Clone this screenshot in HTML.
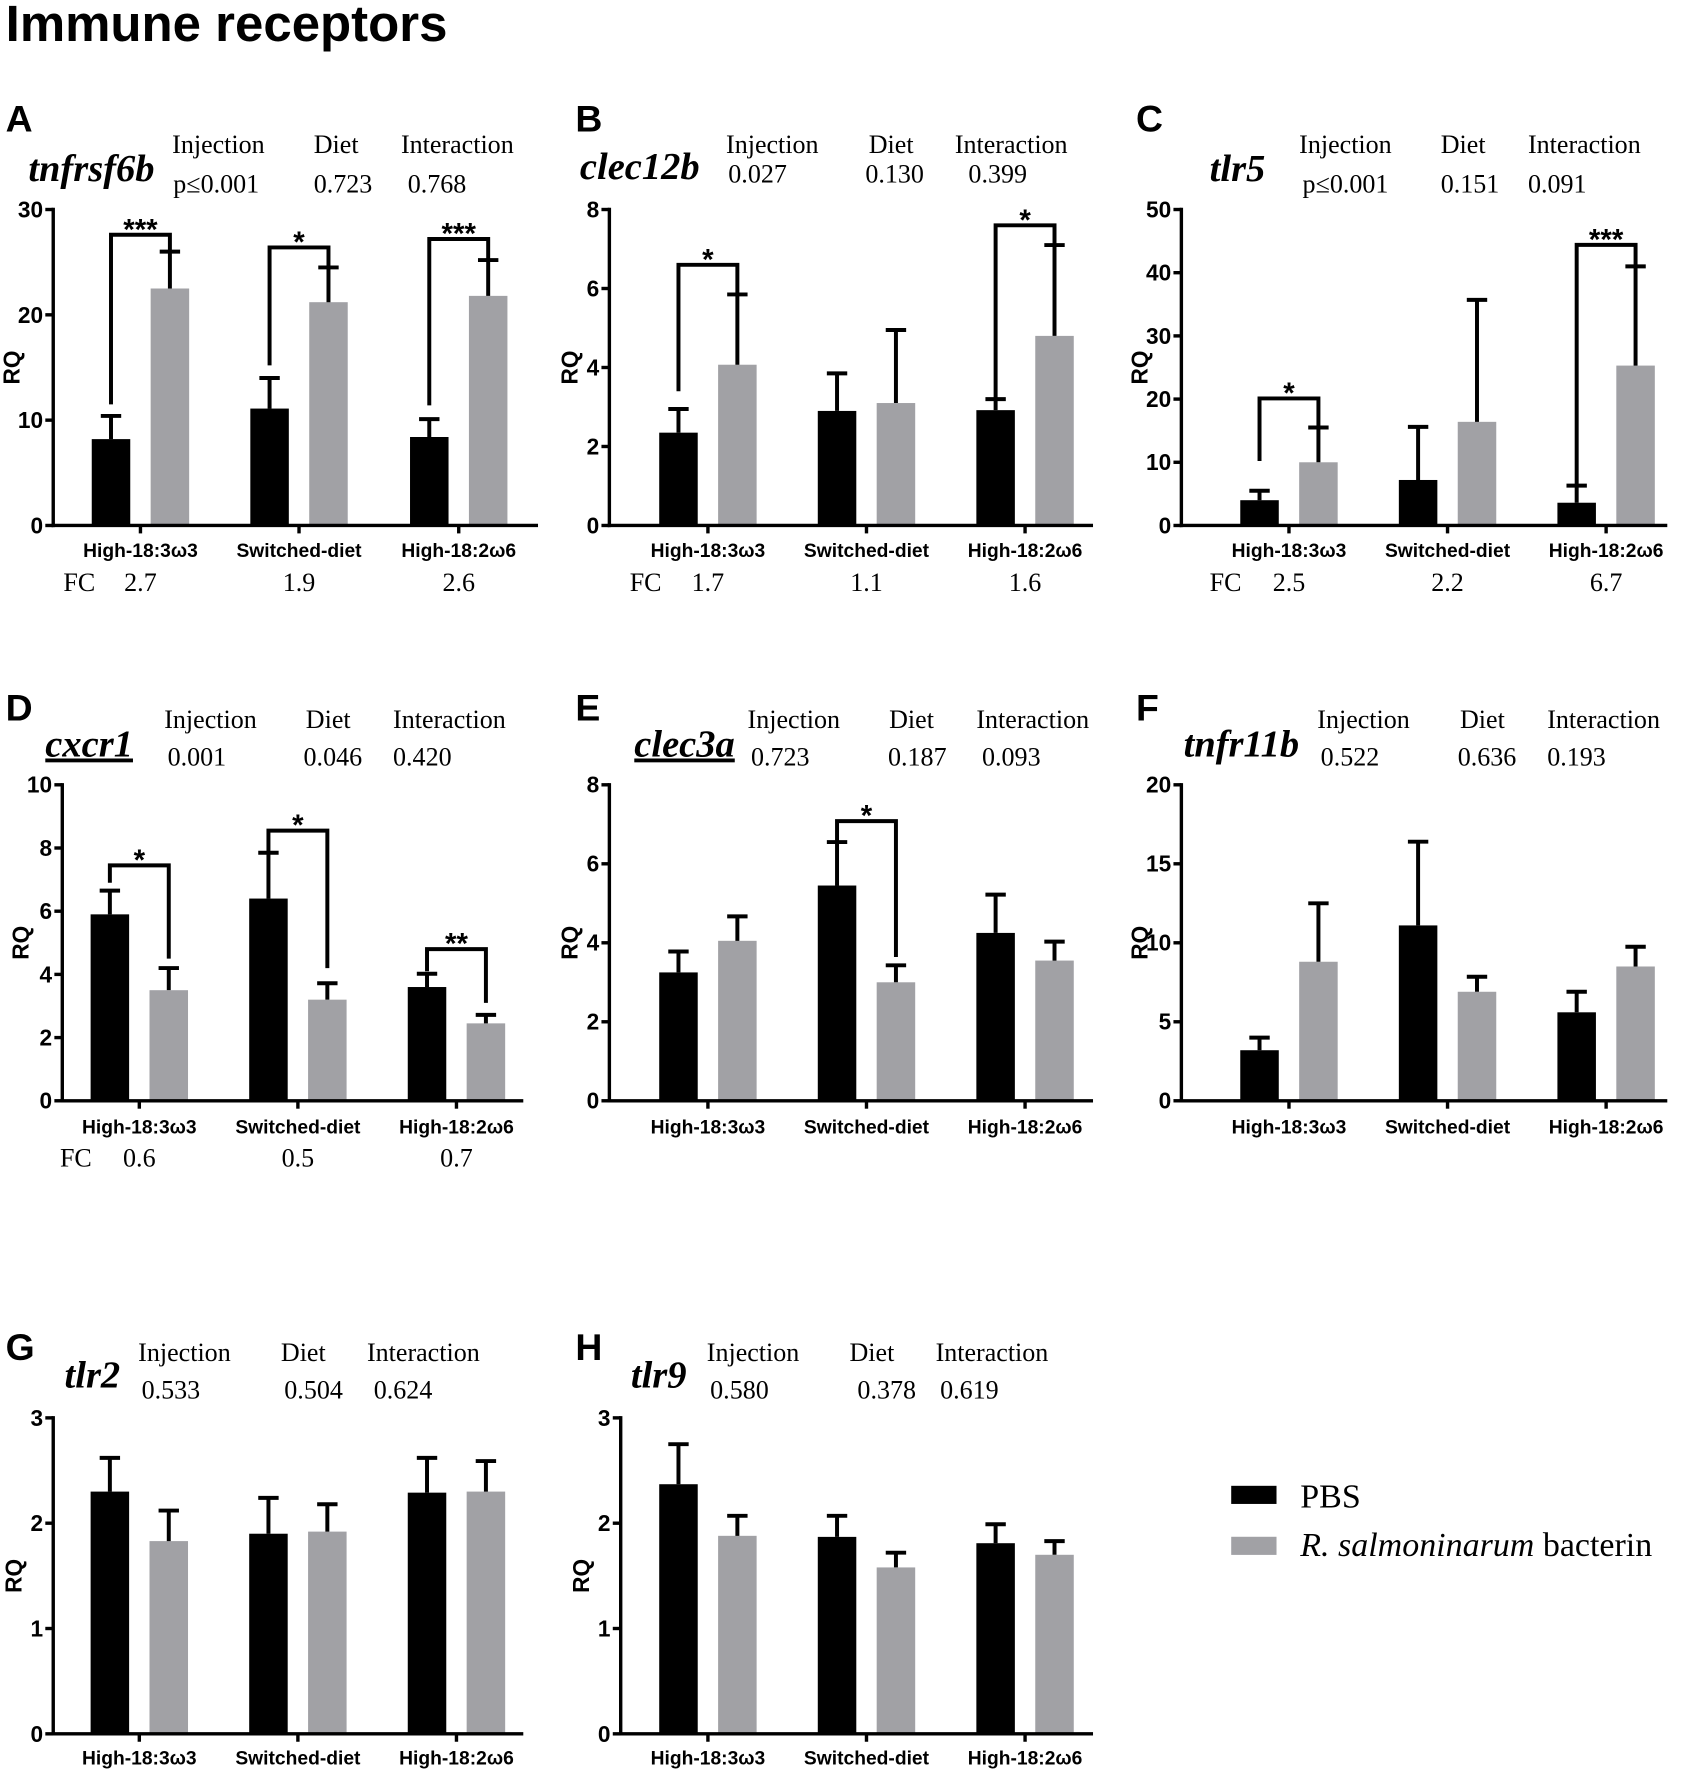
<!DOCTYPE html>
<html><head><meta charset="utf-8">
<style>
html,body{margin:0;padding:0;background:#fff;}
svg{display:block;}
.tk{font-family:"Liberation Sans",sans-serif;font-weight:bold;font-size:20px;}
.grp{font-family:"Liberation Sans",sans-serif;font-weight:bold;font-size:17px;}
.ser{font-family:"Liberation Serif",serif;font-size:23px;}
.gene{font-family:"Liberation Serif",serif;font-style:italic;font-weight:bold;font-size:34px;}
.let{font-family:"Liberation Sans",sans-serif;font-weight:bold;font-size:33px;}
.sig{font-family:"Liberation Sans",sans-serif;font-weight:bold;font-size:26px;}
</style></head>
<body>
<svg id="fig" width="1699" height="1778" viewBox="0 0 1500 1570" preserveAspectRatio="none" xmlns="http://www.w3.org/2000/svg">
<text x="5" y="36" font-family="Liberation Sans, sans-serif" font-weight="bold" font-size="45">Immune receptors</text>
<g>
<rect x="1087" y="1312" width="40" height="16" fill="#000"/>
<text x="1148" y="1331" font-family="Liberation Serif, serif" font-size="30">PBS</text>
<rect x="1087" y="1357" width="40" height="16" fill="#a1a1a5"/>
<text x="1148" y="1374" font-family="Liberation Serif, serif" font-size="30"><tspan font-style="italic">R. salmoninarum</tspan> bacterin</text>
</g>
</svg>
<script>
const categories = ["High-18:3ω3","Switched-diet","High-18:2ω6"];
// Panel A tnfrsf6b
const pbsA = [8.2, 11.1, 8.4];   const pbsErrA = [10.4, 14.0, 10.1];
const rsA  = [22.5, 21.2, 21.8]; const rsErrA  = [26.0, 24.5, 25.2];
const fcA = ["2.7","1.9","2.6"]; const pvalA = ["p≤0.001","0.723","0.768"];
const sigA = [[0,11.5,27.6,26.0,"***"],[1,15.2,26.4,24.5,"*"],[2,11.4,27.2,25.2,"***"]];
// Panel B clec12b
const pbsB = [2.35, 2.9, 2.92]; const pbsErrB = [2.95, 3.85, 3.2];
const rsB  = [4.07, 3.1, 4.8];  const rsErrB  = [5.85, 4.95, 7.1];
const fcB = ["1.7","1.1","1.6"]; const pvalB = ["0.027","0.130","0.399"];
const sigB = [[0,3.4,6.6,5.85,"*"],[2,3.2,7.6,7.1,"*"]];
// Panel C tlr5
const pbsC = [4.0, 7.2, 3.6];    const pbsErrC = [5.5, 15.6, 6.3];
const rsC  = [10.0, 16.4, 25.3]; const rsErrC  = [15.5, 35.7, 41.0];
const fcC = ["2.5","2.2","6.7"]; const pvalC = ["p≤0.001","0.151","0.091"];
const sigC = [[0,10.2,20.1,15.5,"*"],[2,6.1,44.4,41.0,"***"]];
// Panel D cxcr1
const pbsD = [5.9, 6.4, 3.6];   const pbsErrD = [6.65, 7.85, 4.02];
const rsD  = [3.5, 3.2, 2.45];  const rsErrD  = [4.2, 3.72, 2.72];
const fcD = ["0.6","0.5","0.7"]; const pvalD = ["0.001","0.046","0.420"];
const sigD = [[0,6.9,7.45,4.5,"*"],[1,7.9,8.55,4.2,"*"],[2,4.1,4.8,3.1,"**"]];
// Panel E clec3a
const pbsE = [3.25, 5.45, 4.25]; const pbsErrE = [3.78, 6.55, 5.22];
const rsE  = [4.05, 3.0, 3.55];  const rsErrE  = [4.67, 3.43, 4.03];
const pvalE = ["0.723","0.187","0.093"];
const sigE = [[1,6.55,7.08,3.64,"*"]];
// Panel F tnfr11b
const pbsF = [3.2, 11.1, 5.6];  const pbsErrF = [4.0, 16.4, 6.9];
const rsF  = [8.8, 6.9, 8.5];   const rsErrF  = [12.5, 7.85, 9.75];
const pvalF = ["0.522","0.636","0.193"];
// Panel G tlr2
const pbsG = [2.3, 1.9, 2.29];  const pbsErrG = [2.62, 2.24, 2.62];
const rsG  = [1.83, 1.92, 2.3]; const rsErrG  = [2.12, 2.18, 2.59];
const pvalG = ["0.533","0.504","0.624"];
// Panel H tlr9
const pbsH = [2.37, 1.87, 1.81]; const pbsErrH = [2.75, 2.07, 1.99];
const rsH  = [1.88, 1.58, 1.7];  const rsErrH  = [2.07, 1.72, 1.83];
const pvalH = ["0.580","0.378","0.619"];
const ticksA=[0,10,20,30], ticksB=[0,2,4,6,8], ticksC=[0,10,20,30,40,50], ticksD=[0,2,4,6,8,10],
      ticksE=[0,2,4,6,8], ticksF=[0,5,10,15,20], ticksG=[0,1,2,3], ticksH=[0,1,2,3];

const NS="http://www.w3.org/2000/svg";
const svg=document.getElementById('fig');
function mk(tag,attrs,parent,text){const e=document.createElementNS(NS,tag);for(const k in attrs)e.setAttribute(k,attrs[k]);if(text!==undefined)e.textContent=text;(parent||svg).appendChild(e);return e;}

const panels=[
 {id:"a",L:"A",gene:"tnfrsf6b",ax:47,y0:464,yt:185,ticks:ticksA,gx:[124,264,405],xe:475,pbs:pbsA,pe:pbsErrA,rs:rsA,re:rsErrA,fc:fcA,pv:pvalA,sig:sigA,
  lx:5,ly:116,gnx:25,gny:160,hx:[152,277,354],pvx:[153,277,360],hy:135,pvy:170,fcx:70,fcy:522,gy:492,under:false},
 {id:"b",L:"B",gene:"clec12b",ax:538,y0:464,yt:185,ticks:ticksB,gx:[625,765,905],xe:965,pbs:pbsB,pe:pbsErrB,rs:rsB,re:rsErrB,fc:fcB,pv:pvalB,sig:sigB,
  lx:508,ly:116,gnx:512,gny:158,hx:[641,767,843],pvx:[643,764,855],hy:135,pvy:161,fcx:570,fcy:522,gy:492},
 {id:"c",L:"C",gene:"tlr5",ax:1043,y0:464,yt:185,ticks:ticksC,gx:[1138,1278,1418],xe:1472,pbs:pbsC,pe:pbsErrC,rs:rsC,re:rsErrC,fc:fcC,pv:pvalC,sig:sigC,
  lx:1003,ly:116,gnx:1068,gny:160,hx:[1147,1272,1349],pvx:[1150,1272,1349],hy:135,pvy:170,fcx:1082,fcy:522,gy:492},
 {id:"d",L:"D",gene:"cxcr1",ax:55,y0:972,yt:693,ticks:ticksD,gx:[123,263,403],xe:462,pbs:pbsD,pe:pbsErrD,rs:rsD,re:rsErrD,fc:fcD,pv:pvalD,sig:sigD,
  lx:5,ly:636,gnx:40,gny:668,hx:[145,270,347],pvx:[148,268,347],hy:643,pvy:676,fcx:67,fcy:1030,gy:1001,under:true},
 {id:"e",L:"E",gene:"clec3a",ax:538,y0:972,yt:693,ticks:ticksE,gx:[625,765,905],xe:965,pbs:pbsE,pe:pbsErrE,rs:rsE,re:rsErrE,pv:pvalE,sig:sigE,
  lx:508,ly:636,gnx:560,gny:668,hx:[660,785,862],pvx:[663,784,867],hy:643,pvy:676,gy:1001,under:true},
 {id:"f",L:"F",gene:"tnfr11b",ax:1043,y0:972,yt:693,ticks:ticksF,gx:[1138,1278,1418],xe:1472,pbs:pbsF,pe:pbsErrF,rs:rsF,re:rsErrF,pv:pvalF,sig:[],
  lx:1003,ly:636,gnx:1045,gny:668,hx:[1163,1289,1366],pvx:[1166,1287,1366],hy:643,pvy:676,gy:1001},
 {id:"g",L:"G",gene:"tlr2",ax:47,y0:1531,yt:1252,ticks:ticksG,gx:[123,263,403],xe:462,pbs:pbsG,pe:pbsErrG,rs:rsG,re:rsErrG,pv:pvalG,sig:[],
  lx:5,ly:1201,gnx:57,gny:1225,hx:[122,248,324],pvx:[125,251,330],hy:1202,pvy:1235,gy:1558},
 {id:"h",L:"H",gene:"tlr9",ax:548,y0:1531,yt:1252,ticks:ticksH,gx:[625,765,905],xe:965,pbs:pbsH,pe:pbsErrH,rs:rsH,re:rsErrH,pv:pvalH,sig:[],
  lx:508,ly:1201,gnx:557,gny:1225,hx:[624,750,826],pvx:[627,757,830],hy:1202,pvy:1235,gy:1558}
];
const heads=["Injection","Diet","Interaction"];
const OFF=26, BW=34, CAP=9;

panels.forEach(p=>{
  const g=mk('g',{});
  
  
  const max=p.ticks[p.ticks.length-1];
  const y=v=>p.y0-(v/max)*(p.y0-p.yt);
  let t=mk('text',{x:p.lx,y:p.ly,class:'let'},g,p.L);
  
  
  t=mk('text',{x:p.gnx,y:p.gny,class:'gene'},g,p.gene);
  if(p.under) t.setAttribute('text-decoration','underline');
  
  
  heads.forEach((h,i)=>{
    let a=mk('text',{x:p.hx[i],y:p.hy,class:'ser'},g,h);
    
    
    let b=mk('text',{x:p.pvx[i],y:p.pvy,class:'ser'},g,p.pv[i]);
    
    
  });
  let l=mk('line',{x1:p.ax,y1:p.yt-1.5,x2:p.ax,y2:p.y0+1.5,stroke:'#000','stroke-width':3},g);
  
  
  p.ticks.forEach(v=>{
    let tk=mk('line',{x1:p.ax-7,y1:y(v),x2:p.ax,y2:y(v),stroke:'#000','stroke-width':3},g);
    
    
    let tl=mk('text',{x:p.ax-9,y:y(v)+7,class:'tk','text-anchor':'end'},g,String(v));
    
    
  });
  const rqx = p.ticks[p.ticks.length-1]>=10 ? p.ax-30 : p.ax-28;
  let rq=mk('text',{x:0,y:0,class:'tk','text-anchor':'middle',transform:`translate(${rqx},${(p.y0+p.yt)/2}) rotate(-90)`},g,'RQ');
  
  
  categories.forEach((c,i)=>{
    const cx=p.gx[i];
    [[p.pbs,p.pe,'#000',-OFF,'pbs'],[p.rs,p.re,'#a1a1a5',OFF,'bacterin']].forEach(s=>{
      const v=s[0][i], e=s[1][i], bx=cx+s[3];
      let r=mk('rect',{x:bx-BW/2,y:y(v),width:BW,height:p.y0-y(v),fill:s[2]},g);
      
      
      let eb=mk('path',{d:`M${bx},${y(v)}V${y(e)}M${bx-CAP},${y(e)}H${bx+CAP}`,stroke:'#000','stroke-width':3.5,fill:'none'},g);
      
      
    });
    let xt=mk('line',{x1:cx,y1:p.y0,x2:cx,y2:p.y0+7,stroke:'#000','stroke-width':3},g);
    
    
    let gl=mk('text',{x:cx,y:p.gy,class:'grp','text-anchor':'middle'},g,c);
    
    
    if(p.fc){
      let f=mk('text',{x:cx,y:p.fcy,class:'ser','text-anchor':'middle'},g,p.fc[i]);
      
      
    }
  });
  if(p.fc){
    let f=mk('text',{x:p.fcx,y:p.fcy,class:'ser','text-anchor':'middle'},g,'FC');
    
    
  }
  let xa=mk('line',{x1:p.ax-1.5,y1:p.y0,x2:p.xe,y2:p.y0,stroke:'#000','stroke-width':3},g);
  
  
  p.sig.forEach(s=>{
    const cx=p.gx[s[0]], x1=cx-OFF, x2=cx+OFF;
    let br=mk('path',{d:`M${x1},${y(s[1])}V${y(s[2])}H${x2}V${y(s[3])}`,stroke:'#000','stroke-width':3.5,fill:'none'},g);
    
    
    let st=mk('text',{x:cx,y:y(s[2])+4,class:'sig','text-anchor':'middle'},g,s[4]);
    
    
  });
});
</script>
</body></html>
